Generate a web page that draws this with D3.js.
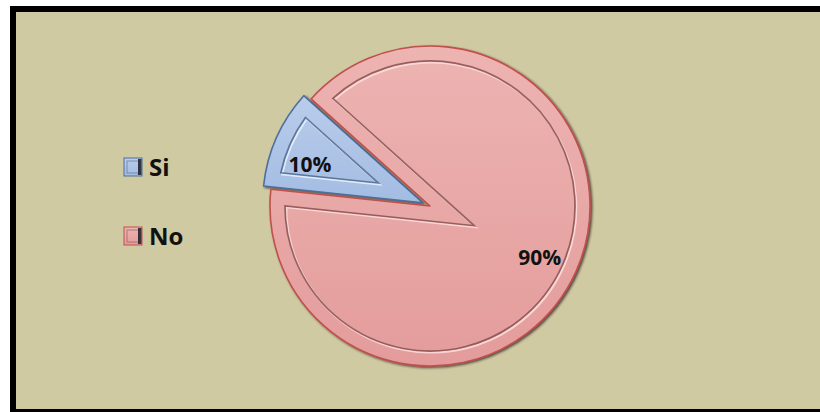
<!DOCTYPE html>
<html>
<head>
<meta charset="utf-8">
<script src="https://cdn.jsdelivr.net/npm/d3@7"></script>
<style>
  html, body { margin: 0; padding: 0; background: #CFCAA2; overflow: hidden; }
  svg { display: block; position: absolute; left: 0; top: 0; }
</style>
</head>
<body>
<svg id="chart"></svg>
<script>
// ---- data ----
const categories = ["Si", "No"];
const values = [10, 90];
const labels = ["10%", "90%"];

// ---- styles ----
const fills = {
  Si: { top: "#B9CDEB", bottom: "#A3BCE2", stroke: "#4E6F9C", dark: "#4F6890", light: "#E4EDFA" },
  No: { top: "#EDB4B2", bottom: "#E39C9B", stroke: "#C0504D", dark: "#8A5050", light: "#FBD9D8" }
};

const W = Math.max(820, window.innerWidth + 40), H = 412;
const svg = d3.select("#chart").attr("width", W).attr("height", H);
const defs = svg.append("defs");

// white outside the frame, tan panel, frame open on the right as in the reference
svg.append("rect").attr("x", 0).attr("y", 0).attr("width", W).attr("height", 6).attr("fill", "#fff");
svg.append("rect").attr("x", 0).attr("y", 0).attr("width", 10).attr("height", H).attr("fill", "#fff");
svg.append("rect").attr("x", 13).attr("y", 9).attr("width", W - 13).attr("height", H - 9)
  .attr("fill", "#CFCAA2");
svg.append("line").attr("x1", 10).attr("x2", W).attr("y1", 9).attr("y2", 9)
  .attr("stroke", "#000").attr("stroke-width", 6);
svg.append("line").attr("x1", 13).attr("x2", 13).attr("y1", 6).attr("y2", H)
  .attr("stroke", "#000").attr("stroke-width", 6);
svg.append("line").attr("x1", 10).attr("x2", W).attr("y1", H - 1.5).attr("y2", H - 1.5)
  .attr("stroke", "#000").attr("stroke-width", 3);

// gradients
categories.forEach(c => {
  const g = defs.append("linearGradient").attr("id", "grad-" + c)
    .attr("x1", 0).attr("y1", 0).attr("x2", 0).attr("y2", 1);
  g.append("stop").attr("offset", "0%").attr("stop-color", fills[c].top);
  g.append("stop").attr("offset", "100%").attr("stop-color", fills[c].bottom);
});
const f = defs.append("filter").attr("id", "shadow").attr("x", "-10%").attr("y", "-10%")
  .attr("width", "130%").attr("height", "130%");
f.append("feDropShadow").attr("dx", 1.6).attr("dy", 1.2).attr("stdDeviation", 0.9)
  .attr("flood-color", "#2a1a1a").attr("flood-opacity", 0.75);
const blur = defs.append("filter").attr("id", "soft");
blur.append("feGaussianBlur").attr("stdDeviation", 0.6);

// pie geometry
const cx = 430, cy = 206, R = 160, explode = 8, inset = 15;
const deg = Math.PI / 180;
const pie = d3.pie().value(d => d).sort(null)
  .startAngle(-84 * deg).endAngle(276 * deg);
const arcs = pie(values);
const arcGen = d3.arc().innerRadius(0).outerRadius(R);
const labelArc = d3.arc().innerRadius(120).outerRadius(120);

function insetWedge(a0, a1, r, t) {
  const half = (a1 - a0) / 2;
  const mid = (a0 + a1) / 2;
  const dApex = t / Math.sin(half);
  const Rp = r - t;
  const s = Math.sqrt(Rp * Rp - t * t);
  const delta = Math.atan2(t, s);
  const p = d3.path();
  p.moveTo(dApex * Math.sin(mid), -dApex * Math.cos(mid));
  const b0 = a0 + delta, b1 = a1 - delta;
  p.lineTo(Rp * Math.sin(b0), -Rp * Math.cos(b0));
  p.arc(0, 0, Rp, b0 - Math.PI / 2, b1 - Math.PI / 2, false);
  p.closePath();
  return p.toString();
}

const slices = svg.append("g").selectAll("g.slice").data(arcs).enter().append("g")
  .attr("class", "slice")
  .attr("transform", (d, i) => {
    const mid = (d.startAngle + d.endAngle) / 2;
    const off = categories[i] === "Si" ? explode : 0;
    return `translate(${cx + off * Math.sin(mid)},${cy - off * Math.cos(mid)})`;
  });

slices.append("path")
  .attr("d", arcGen)
  .attr("fill", (d, i) => `url(#grad-${categories[i]})`)
  .attr("stroke", (d, i) => fills[categories[i]].stroke)
  .attr("stroke-width", 1.6)
  .attr("stroke-linejoin", "round")
  .attr("filter", "url(#shadow)");

// bevel: light line then dark line
slices.append("path")
  .attr("d", d => insetWedge(d.startAngle, d.endAngle, R, inset))
  .attr("transform", "translate(1.3,1.5)")
  .attr("fill", "none")
  .attr("stroke", (d, i) => fills[categories[i]].light)
  .attr("stroke-width", 2)
  .attr("opacity", 0.95)
  .attr("filter", "url(#soft)");
slices.append("path")
  .attr("d", d => insetWedge(d.startAngle, d.endAngle, R, inset))
  .attr("fill", "none")
  .attr("stroke", (d, i) => fills[categories[i]].dark)
  .attr("stroke-width", 1.7)
  .attr("opacity", 0.85)
  .attr("filter", "url(#soft)");

// data labels
slices.append("text")
  .attr("transform", (d, i) => {
    const c = labelArc.centroid(d);
    return `translate(${c[0] - (i === 0 ? 3 : 0)},${c[1] + (i === 0 ? 10 : 3)})`;
  })
  .attr("text-anchor", "middle")
  .attr("dy", "0.36em")
  .attr("font-family", "'Open Sans', Lato, sans-serif")
  .attr("font-weight", "bold")
  .attr("font-size", 21)
  .attr("fill", "#111")
  .text((d, i) => labels[i]);

// legend
const legend = svg.append("g").attr("transform", "translate(124,158)");
const item = legend.selectAll("g").data(categories).enter().append("g")
  .attr("transform", (d, i) => `translate(0,${i * 69})`);
item.append("rect").attr("width", 18).attr("height", 18)
  .attr("fill", d => `url(#grad-${d})`)
  .attr("stroke", d => fills[d].stroke).attr("stroke-width", 1);
item.append("rect").attr("x", 3).attr("y", 3).attr("width", 12).attr("height", 12)
  .attr("fill", "none").attr("stroke", d => fills[d].dark).attr("stroke-width", 1)
  .attr("opacity", 0.6);
item.append("rect").attr("x", 14).attr("y", 1).attr("width", 3.5).attr("height", 16)
  .attr("fill", "#1e1e2a").attr("opacity", 0.85);
item.append("text")
  .attr("x", 25).attr("y", 18)
  .attr("font-family", "'Open Sans', Lato, sans-serif")
  .attr("font-weight", "bold")
  .attr("font-size", 24)
  .attr("fill", "#111")
  .text(d => d);
</script>
</body>
</html>
